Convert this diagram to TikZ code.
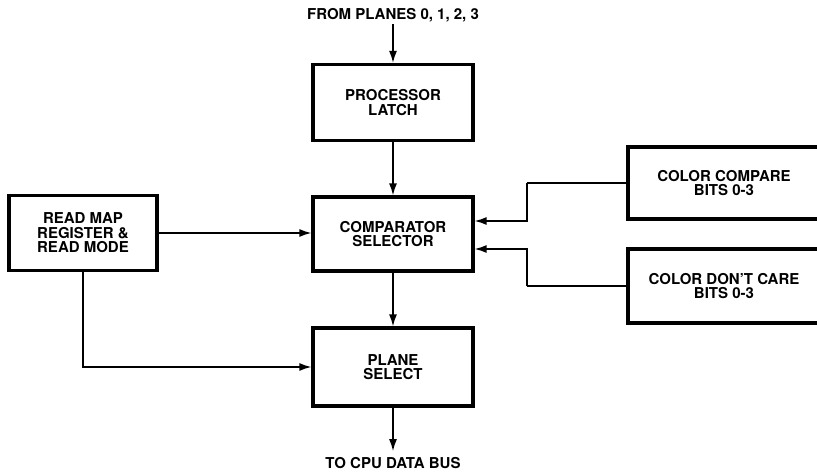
\documentclass[tikz,border=0pt]{standalone}
\usepackage{fontspec}
\setmainfont{TeX Gyre Heros}
\usetikzlibrary{arrows.meta,calc}
\begin{document}
\begin{tikzpicture}[x=1pt,y=-1pt,
  blk/.style={draw,line width=3.2pt,minimum width=160pt,minimum height=76pt,align=center,
    font=\fontsize{15}{14.5}\selectfont\bfseries,inner sep=0pt},
  lbl/.style={font=\fontsize{15}{14.5}\selectfont\bfseries,inner sep=0pt},
  conn/.style={line width=1.5pt,-{Latex[length=12pt,width=8pt]}},
  wire/.style={line width=1.5pt}]
\useasboundingbox (0,0) rectangle (817,474);
\begin{scope}
\clip (0,0) rectangle (817,474);
\node[blk] (latch) at (393,102.5) {PROCESSOR\\LATCH};
\node[blk,minimum height=74pt] (comp) at (393,234) {COMPARATOR\\SELECTOR};
\node[blk,minimum height=78pt] (plane) at (393,367) {PLANE\\SELECT};
\node[blk,minimum width=148pt,minimum height=75pt] (readmap) at (83,233) {READ MAP\\REGISTER \&\\READ MODE};
\node[blk,minimum width=192pt,minimum height=72pt] (ccmp) at (724,183) {COLOR COMPARE\\BITS 0-3};
\node[blk,minimum width=192pt,minimum height=74pt] (cdc) at (724,286) {COLOR DON'T CARE\\BITS 0-3};
\end{scope}
\node[lbl] (from) at (393,15) {FROM PLANES 0, 1, 2, 3};
\node[lbl] (to) at (393,463) {TO CPU DATA BUS};
\coordinate (c1) at ($(comp.east)+(0,-13)$);
\coordinate (c2) at ($(comp.east)+(0,15)$);
\coordinate (k1) at (527,183);
\coordinate (k2) at (527,286);
\draw[conn] (from.south) ++(0,2) -- (latch.north);
\draw[conn] (latch.south) -- (comp.north);
\draw[conn] (readmap.east) -- (readmap.east -| comp.west);
\draw[wire] (ccmp.west) -- (k1);
\draw[conn] (k1) |- (c1);
\draw[wire] (cdc.west) -- (k2);
\draw[conn] (k2) |- (c2);
\draw[conn] (readmap.south) |- (plane.west);
\draw[conn] (comp.south) -- (plane.north);
\draw[conn] (plane.south) -- ($(to.north)+(0,-6)$);
\end{tikzpicture}
\end{document}
